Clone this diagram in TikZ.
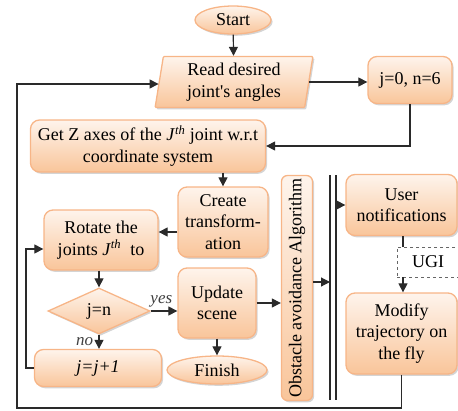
\documentclass[tikz,border=0pt]{standalone}
\usepackage{fontspec}
\usepackage{graphicx}
\setmainfont{Liberation Serif}
\usetikzlibrary{shapes.geometric,shadows,arrows.meta}

\definecolor{boxtop}{HTML}{FEF4EC}
\definecolor{boxbot}{HTML}{F9C59A}
\definecolor{boxline}{HTML}{F7B587}
\definecolor{wire}{HTML}{2A2A2A}

\tikzset{
  base/.style={draw=boxline, line width=1.3pt, top color=boxtop, bottom color=boxbot,
    drop shadow={shadow xshift=1.6pt, shadow yshift=-1.8pt, opacity=0.28, fill=black!60},
    align=center, inner sep=1pt, font=\fontsize{18}{21.5}\selectfont},
  roundbox/.style={base, rectangle, rounded corners=9pt},
  oval/.style={base, ellipse, inner sep=0pt},
  slanted/.style={base, trapezium, trapezium left angle=82, trapezium right angle=98,
    trapezium stretches=true, rounded corners=1pt},
  decision/.style={base, diamond, inner sep=0pt},
  dashbox/.style={draw=black!60, dashed, line width=0.9pt, fill=white, inner sep=0pt,
    font=\fontsize{18}{21.5}\selectfont},
  flow/.style={draw=wire, line width=1.2pt, -{Triangle[length=9pt,width=9pt]}},
  plain/.style={draw=wire, line width=1.2pt},
  tag/.style={font=\fontsize{17}{20}\selectfont\itshape, text=black!75}
}

\newcommand{\jth}{\textit{J}\textsuperscript{\textit{th}}}

\begin{document}
\begin{tikzpicture}[x=1pt, y=-1pt]
\useasboundingbox (0,0) rectangle (458,410);

% process blocks
\node[oval, minimum width=76pt, minimum height=28pt] (start) at (233,20) {Start};
\node[slanted, minimum width=158pt, minimum height=51pt] (read) at (234,82)
  {Read desired\\joint\textquotesingle s angles};
\node[roundbox, minimum width=84pt, minimum height=47pt] (init) at (410,80) {j=0, n=6};
\node[roundbox, minimum width=235pt, minimum height=52pt] (getz) at (148,146)
  {Get Z axes of the \jth{} joint w.r.t\\coordinate system};
\node[roundbox, minimum width=90pt, minimum height=70pt] (create) at (223,222)
  {Create\\transform-\\ation};
\node[roundbox, minimum width=114pt, minimum height=60pt] (rotate) at (101,240)
  {Rotate the\\joints \jth{}\ \ to};
\node[decision, minimum width=102pt, minimum height=46pt] (cond) at (99,311) {j=n};
\node[roundbox, minimum width=78pt, minimum height=70pt] (update) at (217,303)
  {Update\\scene};
\node[oval, minimum width=100pt, minimum height=28pt] (finish) at (217,370) {Finish};
\node[roundbox, minimum width=127pt, minimum height=37pt] (incr) at (98,368)
  {\textit{j=j+1}};
\node[roundbox, rounded corners=6pt, minimum width=31pt, minimum height=225pt] (obst) at (297,288)
  {\rotatebox{90}{Obstacle avoidance Algorithm}};
\node[roundbox, minimum width=111pt, minimum height=61pt] (user) at (401.5,205)
  {User\\notifications};
\node[dashbox, minimum width=62pt, minimum height=30pt] (ugi) at (428,262) {UGI};
\node[roundbox, minimum width=111pt, minimum height=81pt] (modify) at (401.5,333.5)
  {Modify\\trajectory on\\the fly};

% double bus line
\coordinate (busAtop) at (330,175);
\coordinate (busAbot) at (330,400);
\coordinate (busBtop) at (336,175);
\coordinate (busBbot) at (336,400);
\draw[plain] (busAtop) -- (busAbot);
\draw[plain] (busBtop) -- (busBbot);

% loop corners
\coordinate (innerloop) at (26,249);
\coordinate (outerloop) at (17,408);

% connectors
\draw[flow] (start) -- (read);
\draw[flow] (read.east) -- (read.east -| init.west);
\draw[flow] (init.south) |- (getz.east);
\draw[flow] (create.north |- getz.south) -- (create.north);
\draw[flow] ([yshift=-10pt]create.west) -- ([yshift=-10pt]create.west -| rotate.east);
\draw[flow] (cond.north |- rotate.south) -- (cond.north);
\draw[flow] (cond.east) -- node[tag, above, pos=0.4] {yes} (cond.east -| update.west);
\draw[flow] (cond.south) -- node[tag, left, xshift=-2pt] {no} (incr.north -| cond.south);
\draw[flow] (update.south) -- (finish.north);
\draw[flow] (incr.west) -| (innerloop) -- (innerloop -| rotate.west);
\draw[flow] (update.east) -- (update.east -| obst.west);
\draw[flow] ([yshift=6pt]obst.east) -- ([yshift=6pt]obst.east -| busAtop);
\draw[flow] (user.west -| busBtop) -- (user.west);
\draw[plain] (ugi.north -| 403,0) -- (403,236);
\draw[flow] (ugi.south -| 403,0) -- (modify.north -| 403,0);
\draw[flow] (modify.south) |- (outerloop) |- ([yshift=-2pt]read.west);

\end{tikzpicture}
\end{document}
